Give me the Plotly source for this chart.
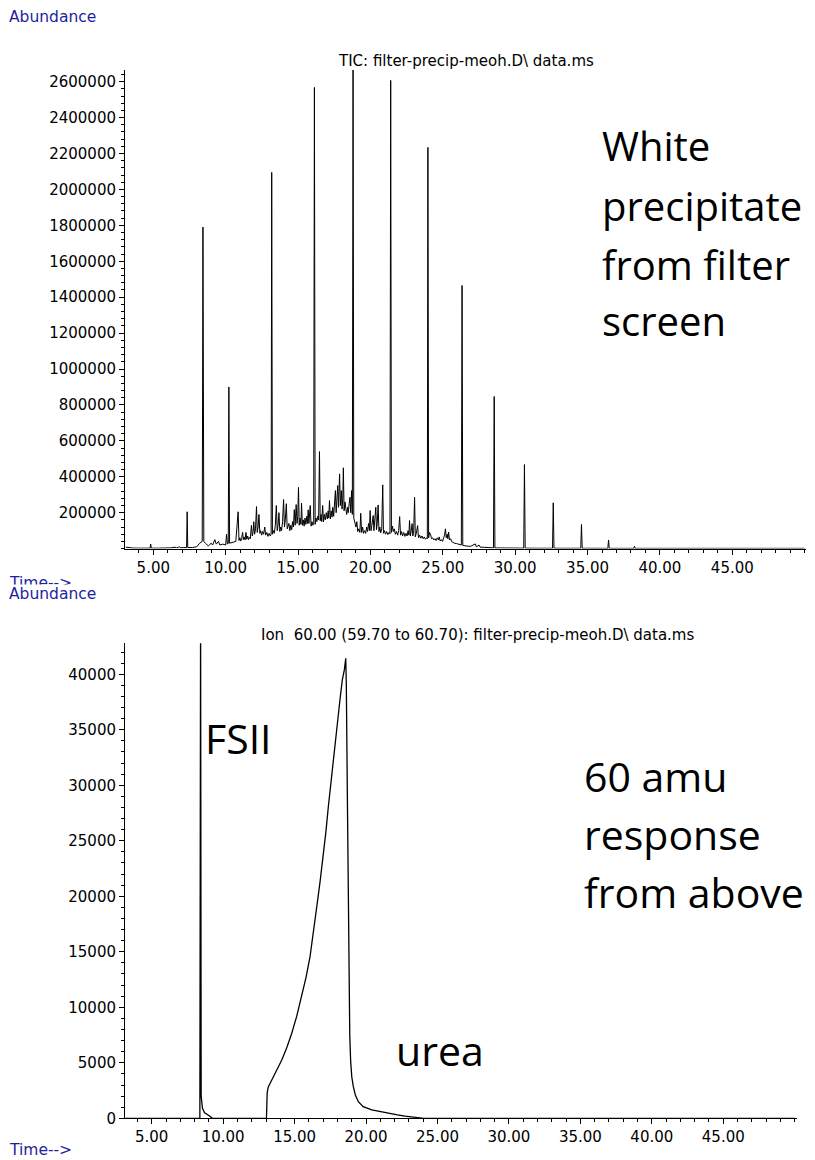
import plotly.graph_objects as go

# ---------------- data ----------------
# TIC chromatogram: retention time (min) and abundance
tic_time = [
    3.10, 3.30, 3.60, 4.00, 4.50, 4.78, 4.82, 4.86, 5.30, 5.80, 6.20, 6.50, 6.60, 6.80, 6.90,
    7.10, 7.30, 7.34, 7.38, 7.70, 8.00, 8.20, 8.38, 8.43, 8.49, 8.60, 8.80, 9.00, 9.10, 9.25,
    9.35, 9.50, 9.60, 9.80, 10.00, 10.06, 10.12, 10.18, 10.22, 10.27, 10.50, 10.70, 10.86, 10.92,
    10.98, 11.04, 11.10, 11.17, 11.22, 11.28, 11.34, 11.40, 11.46, 11.52, 11.58, 11.64, 11.70,
    11.78, 11.84, 11.90, 11.94, 12.00, 12.06, 12.13, 12.18, 12.24, 12.30, 12.36, 12.42, 12.48,
    12.55, 12.62, 12.70, 12.76, 12.84, 12.92, 13.00, 13.08, 13.14, 13.18, 13.23, 13.30, 13.36,
    13.43, 13.50, 13.56, 13.62, 13.68, 13.74, 13.80, 13.86, 13.93, 14.00, 14.06, 14.12, 14.19,
    14.25, 14.31, 14.37, 14.43, 14.50, 14.56, 14.62, 14.68, 14.74, 14.80, 14.87, 14.93, 14.98,
    15.03, 15.08, 15.14, 15.20, 15.24, 15.30, 15.36, 15.42, 15.48, 15.54, 15.60, 15.65, 15.70,
    15.75, 15.84, 15.90, 15.96, 16.03, 16.08, 16.13, 16.18, 16.24, 16.30, 16.36, 16.42, 16.48,
    16.53, 16.59, 16.64, 16.70, 16.76, 16.82, 16.88, 16.95, 17.02, 17.08, 17.12, 17.17, 17.23,
    17.29, 17.35, 17.40, 17.46, 17.52, 17.58, 17.63, 17.69, 17.74, 17.79, 17.83, 17.87, 17.92,
    17.96, 17.99, 18.04, 18.09, 18.13, 18.18, 18.24, 18.31, 18.36, 18.42, 18.47, 18.53, 18.59,
    18.64, 18.70, 18.75, 18.80, 18.85, 18.92, 19.00, 19.06, 19.12, 19.20, 19.27, 19.33, 19.39,
    19.46, 19.52, 19.60, 19.67, 19.74, 19.80, 19.87, 19.93, 19.98, 20.04, 20.10, 20.19, 20.24,
    20.30, 20.37, 20.42, 20.47, 20.53, 20.59, 20.65, 20.71, 20.78, 20.85, 20.90, 20.97, 21.04,
    21.12, 21.20, 21.28, 21.35, 21.40, 21.45, 21.52, 21.58, 21.65, 21.72, 21.80, 21.88, 21.95,
    22.02, 22.08, 22.15, 22.22, 22.30, 22.38, 22.46, 22.53, 22.60, 22.66, 22.70, 22.76, 22.82,
    22.88, 22.93, 22.99, 23.05, 23.10, 23.17, 23.26, 23.32, 23.40, 23.48, 23.56, 23.64, 23.72,
    23.80, 23.88, 23.93, 23.97, 24.02, 24.08, 24.15, 24.22, 24.30, 24.38, 24.46, 24.54, 24.62,
    24.70, 24.75, 24.82, 24.90, 24.98, 25.06, 25.12, 25.18, 25.24, 25.30, 25.35, 25.40, 25.46,
    25.54, 25.62, 25.70, 25.80, 25.95, 26.10, 26.28, 26.33, 26.38, 26.60, 26.90, 27.25, 27.32,
    27.50, 27.58, 27.90, 28.30, 28.50, 28.55, 28.60, 29.00, 29.50, 30.00, 30.59, 30.64, 30.69,
    31.50, 32.58, 32.63, 32.68, 33.50, 34.53, 34.58, 34.63, 36.40, 36.45, 36.50, 38.19, 38.24,
    38.29, 42.00, 46.00, 50.00,
]
tic_abund = [
    8000, 5000, 3000, 2500, 2000, 2500, 25000, 2500, 2500, 3000, 4000, 8000, 4000, 10000, 5000,
    6000, 5000, 205000, 6000, 6000, 10000, 30000, 40000, 1790000, 40000, 30000, 15000, 30000, 20000, 50000,
    25000, 40000, 20000, 25000, 20000, 80000, 25000, 30000, 900000, 30000, 35000, 40000, 205000, 45000,
    60000, 42000, 55000, 90000, 50000, 65000, 48000, 90000, 52000, 70000, 50000, 62000, 55000,
    130000, 70000, 95000, 150000, 80000, 110000, 234000, 90000, 120000, 190000, 85000, 100000, 75000,
    95000, 80000, 120000, 75000, 90000, 68000, 85000, 70000, 80000, 2095000, 80000, 100000, 85000,
    130000, 240000, 100000, 130000, 200000, 95000, 120000, 100000, 150000, 273000, 120000, 160000, 250000,
    110000, 130000, 140000, 100000, 130000, 105000, 150000, 120000, 217000, 130000, 245000, 140000, 180000,
    341000, 130000, 170000, 135000, 253000, 130000, 160000, 125000, 170000, 135000, 180000, 140000, 216000,
    140000, 240000, 125000, 150000, 130000, 140000, 2568000, 135000, 170000, 150000, 180000, 160000, 540000,
    155000, 190000, 150000, 240000, 150000, 190000, 160000, 200000, 165000, 210000, 170000, 267000, 165000,
    210000, 175000, 230000, 180000, 240000, 323000, 200000, 260000, 351000, 230000, 290000, 416000, 240000,
    300000, 323000, 220000, 280000, 450000, 210000, 260000, 230000, 190000, 230000, 200000, 250000, 286000,
    200000, 323000, 190000, 2700000, 170000, 140000, 120000, 150000, 95000, 110000, 90000, 197000, 90000,
    120000, 85000, 100000, 85000, 120000, 95000, 140000, 100000, 212000, 100000, 130000, 184000, 100000,
    150000, 230000, 105000, 140000, 243000, 95000, 120000, 88000, 110000, 355000, 85000, 100000, 80000,
    95000, 78000, 90000, 82000, 2607000, 90000, 125000, 95000, 110000, 80000, 95000, 75000, 100000,
    178000, 75000, 95000, 70000, 90000, 68000, 85000, 70000, 100000, 75000, 156000, 70000, 100000,
    139000, 70000, 100000, 286000, 65000, 85000, 128000, 60000, 75000, 58000, 70000, 55000, 65000,
    52000, 60000, 55000, 2234000, 60000, 90000, 80000, 55000, 60000, 48000, 55000, 45000, 60000,
    48000, 65000, 42000, 50000, 40000, 60000, 75000, 110000, 60000, 80000, 55000, 92000, 48000,
    55000, 38000, 35000, 30000, 28000, 24000, 20000, 1465000, 18000, 15000, 12000, 26000, 10000,
    20000, 8000, 7000, 5000, 4000, 847000, 4000, 3500, 3000, 2500, 2500, 468000, 2500,
    2000, 2000, 255000, 2000, 1800, 1800, 134000, 1800, 1500, 48000, 1500, 1500, 13000,
    1500, 1500, 1500, 1500,
]

# Extracted ion 60 chromatogram
ion_time = [
    3.15, 8.30, 8.37, 8.42, 8.46, 8.55, 8.70, 9.00, 9.25, 13.03, 13.05, 13.08, 13.15, 13.40,
    13.75, 14.10, 14.45, 14.80, 15.15, 15.50, 15.80, 16.08, 16.32, 16.55, 16.78, 17.01, 17.19,
    17.36, 17.54, 17.71, 17.89, 18.06, 18.20, 18.34, 18.48, 18.58, 18.62, 18.70, 18.78, 18.86,
    18.92, 19.00, 19.11, 19.25, 19.46, 19.80, 20.40, 21.00, 21.56, 22.20, 22.73, 23.30, 23.90,
    24.05, 50.00,
]
ion_abund = [
    0, 0, 0, 46000, 2000, 900, 500, 250, 0, 0, 1500, 2300, 2800, 3450,
    4300, 5250, 6350, 7660, 9200, 10950, 12700, 14560, 16700, 19060, 21300, 23570, 25800,
    28070, 30300, 32580, 34600, 36490, 38000, 39490, 40390, 41440, 39000, 28000, 16000, 7500,
    5200, 3750, 2850, 2100, 1500, 1050, 750, 580, 450, 300, 200, 120, 60,
    0, 0,
]

x_tick_vals = [5, 10, 15, 20, 25, 30, 35, 40, 45]
x_tick_text = ["5.00", "10.00", "15.00", "20.00", "25.00", "30.00", "35.00", "40.00", "45.00"]
tic_y_ticks = [200000, 400000, 600000, 800000, 1000000, 1200000, 1400000, 1600000,
               1800000, 2000000, 2200000, 2400000, 2600000]
ion_y_ticks = [0, 5000, 10000, 15000, 20000, 25000, 30000, 35000, 40000]

tic_title = "TIC: filter-precip-meoh.D\\ data.ms"
ion_title = "Ion&nbsp; 60.00 (59.70 to 60.70): filter-precip-meoh.D\\ data.ms"
top_note = ["White", "precipitate", "from filter", "screen"]
bottom_note = ["60 amu", "response", "from above"]

# ---------------- figure ----------------
W, H = 815, 1160
SMALL = dict(family="DejaVu Sans", size=15, color="black")
BLUE = dict(family="DejaVu Sans", size=15.5, color="#1e1ea0")
BIG = dict(family="Open Sans", size=40, color="black")


def px(x):
    return x / W


def py(y):
    return 1 - y / H


fig = go.Figure()
fig.add_trace(go.Scatter(x=tic_time, y=tic_abund, mode="lines",
                         line=dict(color="black", width=1),
                         xaxis="x", yaxis="y", showlegend=False, hoverinfo="skip"))
fig.add_trace(go.Scatter(x=ion_time, y=ion_abund, mode="lines",
                         line=dict(color="black", width=1.3),
                         xaxis="x2", yaxis="y2", showlegend=False, hoverinfo="skip"))

common_axis = dict(showline=True, linecolor="black", linewidth=1, showgrid=False,
                   zeroline=False, ticks="outside", ticklen=5, tickwidth=1,
                   tickcolor="black", tickfont=SMALL, fixedrange=True, automargin=False)

fig.update_layout(
    width=W, height=H,
    margin=dict(l=0, r=0, t=0, b=0, pad=0, autoexpand=False),
    paper_bgcolor="white", plot_bgcolor="white",
    showlegend=False,
    xaxis=dict(domain=[px(125), px(806)], anchor="y", range=[3.045, 50.09],
               tickmode="array", tickvals=x_tick_vals, ticktext=x_tick_text,
               minor=dict(tickmode="linear", tick0=0, dtick=1, ticks="outside",
                          ticklen=3, tickcolor="black", showgrid=False),
               **common_axis),
    yaxis=dict(domain=[py(548.6), py(70)], anchor="x", range=[0, 2665000],
               tickmode="array", tickvals=tic_y_ticks,
               ticktext=[str(v) for v in tic_y_ticks],
               minor=dict(tickmode="linear", tick0=0, dtick=40000, ticks="outside",
                          ticklen=3, tickcolor="black", showgrid=False),
               **common_axis),
    xaxis2=dict(domain=[px(125), px(797)], anchor="y2", range=[3.13, 50.16],
                tickmode="array", tickvals=x_tick_vals, ticktext=x_tick_text,
                minor=dict(tickmode="linear", tick0=0, dtick=1, ticks="outside",
                           ticklen=3, tickcolor="black", showgrid=False),
                **common_axis),
    yaxis2=dict(domain=[py(1118.3), py(643.3)], anchor="x2", range=[0, 42790],
                tickmode="array", tickvals=ion_y_ticks,
                ticktext=[str(v) for v in ion_y_ticks],
                minor=dict(tickmode="linear", tick0=0, dtick=1000, ticks="outside",
                           ticklen=3, tickcolor="black", showgrid=False),
                **common_axis),
)

ann = []


def add(text, x, y, font, xanchor="left", **kw):
    ann.append(dict(text=text, x=px(x), y=py(y), xref="paper", yref="paper",
                    xanchor=xanchor, yanchor="middle", showarrow=False, font=font,
                    borderpad=0, **kw))


add("Abundance", 8, 17, BLUE)
add(tic_title, 466, 61, SMALL, xanchor="center")
add("Time-->", 8, 583, BLUE)
add("Abundance", 8, 594, BLUE, bgcolor="white")
add(ion_title, 478, 635, SMALL, xanchor="center")
add("Time-->", 8, 1150, BLUE)

for i, line in enumerate(top_note):
    add(line, 601, [146, 206, 264, 320][i], BIG)
for i, line in enumerate(bottom_note):
    add(line, 583, [776, 834, 892][i], dict(BIG, size=41))
add("FSII", 204, 738, dict(BIG, size=41))
add("urea", 395, 1050, dict(BIG, size=41))

fig.update_layout(annotations=ann)
fig.write_html("out.html")
